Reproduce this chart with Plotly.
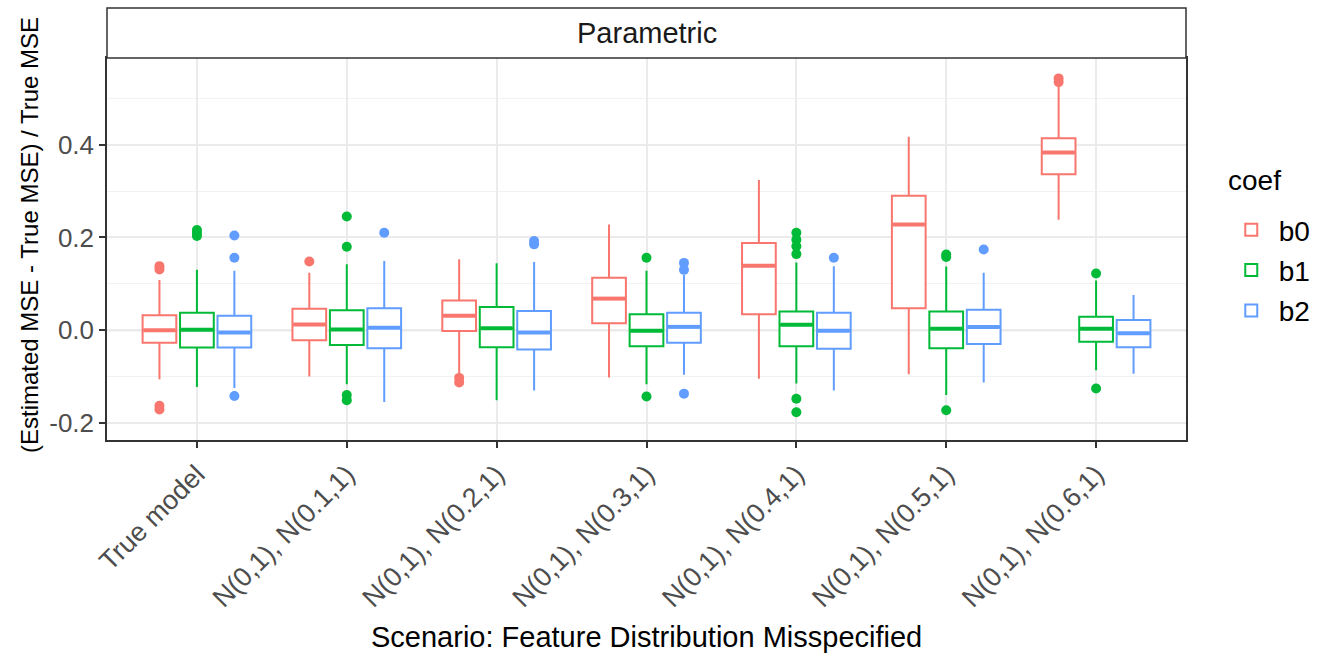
import plotly.graph_objects as go

# Scenarios on the x axis and the three coefficients
scenarios = ["True model", "N(0,1), N(0.1,1)", "N(0,1), N(0.2,1)", "N(0,1), N(0.3,1)",
             "N(0,1), N(0.4,1)", "N(0,1), N(0.5,1)", "N(0,1), N(0.6,1)"]
coefs = ["b0", "b1", "b2"]
colors = ["#F8766D", "#00BA38", "#619CFF"]

# Box statistics per coefficient (relative MSE error)
b0_lo = [-0.106, -0.100, -0.095, -0.102, -0.105, -0.095, 0.238]
b0_q1 = [-0.027, -0.022, -0.002, 0.015, 0.034, 0.047, 0.336]
b0_med = [0.000, 0.012, 0.031, 0.068, 0.139, 0.228, 0.383]
b0_q3 = [0.032, 0.046, 0.064, 0.113, 0.188, 0.290, 0.414]
b0_hi = [0.108, 0.124, 0.153, 0.228, 0.324, 0.417, 0.526]
b0_out = [[0.131, 0.138, -0.163, -0.171], [0.148], [-0.103, -0.113], [], [], [], [0.535, 0.543]]

b1_lo = [-0.1225, -0.117, -0.151, -0.117, -0.115, -0.140, -0.0865]
b1_q1 = [-0.0375, -0.032, -0.037, -0.035, -0.035, -0.039, -0.025]
b1_med = [0.001, 0.0015, 0.004, -0.0015, 0.0115, 0.003, 0.003]
b1_q3 = [0.0375, 0.043, 0.050, 0.034, 0.040, 0.040, 0.029]
b1_hi = [0.130, 0.142, 0.144, 0.128, 0.146, 0.137, 0.107]
b1_out = [[0.203, 0.210, 0.216], [0.245, 0.180, -0.140, -0.151], [], [0.156, -0.143],
          [0.210, 0.195, 0.181, 0.164, -0.148, -0.177], [0.158, 0.163, -0.173], [0.122, -0.126]]

b2_lo = [-0.125, -0.155, -0.130, -0.096, -0.130, -0.113, -0.094]
b2_q1 = [-0.0375, -0.039, -0.042, -0.027, -0.040, -0.030, -0.037]
b2_med = [-0.005, 0.005, -0.005, 0.007, -0.0015, 0.0065, -0.007]
b2_q3 = [0.031, 0.047, 0.041, 0.0375, 0.0375, 0.044, 0.022]
b2_hi = [0.128, 0.149, 0.147, 0.119, 0.138, 0.124, 0.076]
b2_out = [[0.204, 0.156, -0.142], [0.210], [0.185, 0.192], [0.130, 0.145, -0.137], [0.156], [0.174], []]

stats = [
    (b0_lo, b0_q1, b0_med, b0_q3, b0_hi, b0_out),
    (b1_lo, b1_q1, b1_med, b1_q3, b1_hi, b1_out),
    (b2_lo, b2_q1, b2_med, b2_q3, b2_hi, b2_out),
]

FONT = "Liberation Sans, Arial, sans-serif"
dodge = 0.25          # spacing between dodged boxes
box_w = dodge * 0.9   # box width after padding

fig = go.Figure()

for k, (name, col, (lo, q1, med, q3, hi, out)) in enumerate(zip(coefs, colors, stats)):
    offset = (k - 1) * dodge
    xs = [i + offset for i in range(len(scenarios))]
    fig.add_trace(go.Box(
        name=name, x=xs, lowerfence=lo, q1=q1, median=med, q3=q3, upperfence=hi,
        width=box_w, whiskerwidth=0, fillcolor="white",
        line=dict(color=col, width=2), boxpoints=False,
        legendgroup=name, showlegend=True, hoverinfo="skip",
    ))
    # thicker median bars
    mx, my = [], []
    for x, m in zip(xs, med):
        mx += [x - box_w / 2 + 0.006, x + box_w / 2 - 0.006, None]
        my += [m, m, None]
    fig.add_trace(go.Scatter(x=mx, y=my, mode="lines", line=dict(color=col, width=4),
                             legendgroup=name, showlegend=False, hoverinfo="skip"))
    # outliers
    ox, oy = [], []
    for x, pts in zip(xs, out):
        for p in pts:
            ox.append(x)
            oy.append(p)
    fig.add_trace(go.Scatter(x=ox, y=oy, mode="markers", marker=dict(color=col, size=10),
                             legendgroup=name, showlegend=False, hoverinfo="skip"))

# reference line at zero
fig.add_hline(y=0, line=dict(color="#D3D3D3", width=2), layer="below")

# facet strip
strip_top = 1 + (58 - 8) / 382
fig.add_shape(type="rect", xref="paper", yref="paper", x0=0, x1=1, y0=1, y1=strip_top,
              line=dict(color="#333333", width=1.5), fillcolor="white")
fig.add_annotation(text="Parametric", xref="paper", yref="paper", x=0.5, y=(1 + strip_top) / 2,
                   showarrow=False, font=dict(family=FONT, size=29, color="#1A1A1A"),
                   xanchor="center", yanchor="middle")

# axis titles
fig.add_annotation(text="Scenario: Feature Distribution Misspecified", xref="paper", yref="paper",
                   x=0.5, y=(440 - 637) / 382, showarrow=False, xanchor="center", yanchor="middle",
                   font=dict(family=FONT, size=29, color="black"))
fig.add_annotation(text="(Estimated MSE - True MSE) / True MSE", xref="paper", yref="paper",
                   x=(29 - 107) / 1079, y=(440 - 235) / 382, textangle=-90, showarrow=False,
                   xanchor="center", yanchor="middle",
                   font=dict(family=FONT, size=24, color="black"))

# legend title
fig.add_annotation(text="coef", xref="paper", yref="paper",
                   x=(1226 - 107) / 1079, y=(440 - 180) / 382, showarrow=False,
                   xanchor="left", yanchor="middle",
                   font=dict(family=FONT, size=28, color="black"))

fig.update_layout(
    width=1335, height=660,
    margin=dict(l=107, r=149, t=58, b=220),
    paper_bgcolor="white", plot_bgcolor="white",
    showlegend=True,
    legend=dict(font=dict(family=FONT, size=28, color="black"),
                x=1.035, xanchor="left", y=(440 - 205) / 382, yanchor="top",
                itemwidth=45, bgcolor="rgba(0,0,0,0)", tracegroupgap=1),
    xaxis=dict(range=[-0.6, 6.6], tickmode="array", tickvals=list(range(len(scenarios))),
               ticktext=scenarios, tickangle=-45,
               tickfont=dict(family=FONT, size=27, color="#4D4D4D"),
               showgrid=True, gridcolor="#EBEBEB", gridwidth=1.5, zeroline=False,
               ticks="outside", ticklen=6, tickcolor="#333333", tickwidth=1.5,
               showline=True, linecolor="#333333", linewidth=1.5, mirror=True),
    yaxis=dict(range=[-0.237, 0.587], tickmode="array", tickvals=[-0.2, 0.0, 0.2, 0.4],
               ticktext=["-0.2", "0.0", "0.2", "0.4"],
               tickfont=dict(family=FONT, size=26, color="#4D4D4D"),
               showgrid=True, gridcolor="#EBEBEB", gridwidth=1.5, zeroline=False,
               minor=dict(tickvals=[-0.1, 0.1, 0.3, 0.5], showgrid=True, gridcolor="#F2F2F2",
                          gridwidth=1, ticks=""),
               ticks="outside", ticklen=6, tickcolor="#333333", tickwidth=1.5,
               showline=True, linecolor="#333333", linewidth=1.5, mirror=True),
)

fig.write_html("out.html")
